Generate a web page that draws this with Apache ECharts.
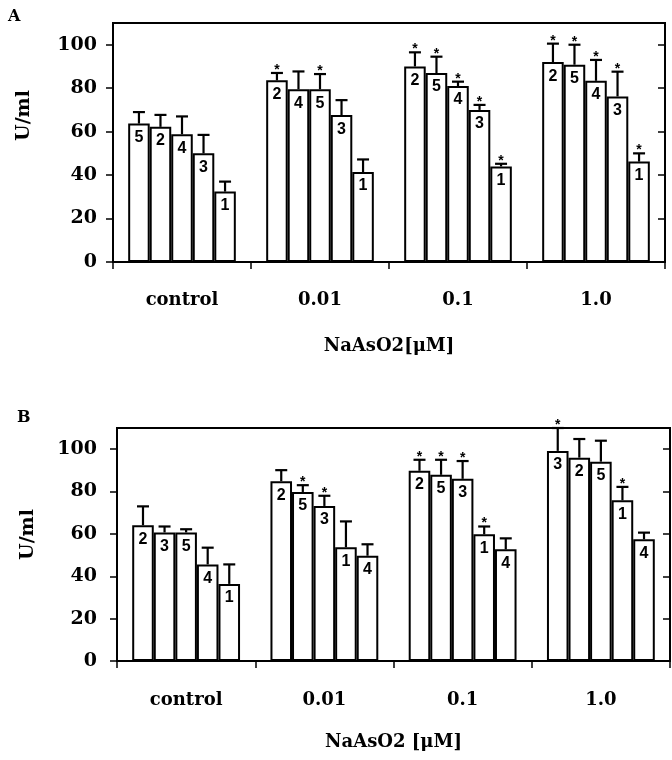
<!DOCTYPE html>
<html><head><meta charset="utf-8">
<script src="https://cdn.jsdelivr.net/npm/echarts@6/dist/echarts.min.js"></script>
<style>html,body{margin:0;padding:0;background:#fff}#chart{width:672px;height:760px}</style>
</head><body><div id="chart"></div>
<script>
const categories = ['control', '0.01', '0.1', '1.0'];

// Panel A: bar means per group (5 bars each), error-bar tops, bar numbers, significance marks
const aMeans = [
  [63.7, 62.2, 58.8, 50.0, 32.4],
  [83.6, 79.5, 79.5, 67.6, 41.4],
  [90.0, 87.0, 81.0, 70.0, 44.0],
  [92.0, 90.8, 83.4, 76.2, 46.2]
];
const aErrTop = [
  [69.0, 67.7, 67.0, 58.5, 37.0],
  [87.0, 87.7, 86.5, 74.5, 47.2],
  [96.5, 94.5, 83.0, 72.3, 45.2],
  [100.5, 100.0, 93.0, 87.6, 50.0]
];
const aLabels = [
  ['5', '2', '4', '3', '1'],
  ['2', '4', '5', '3', '1'],
  ['2', '5', '4', '3', '1'],
  ['2', '5', '4', '3', '1']
];
const aStars = [
  [0, 0, 0, 0, 0],
  [1, 0, 1, 0, 0],
  [1, 1, 1, 1, 1],
  [1, 1, 1, 1, 1]
];

// Panel B
const bMeans = [
  [64.1, 60.7, 60.7, 45.6, 36.4],
  [84.9, 79.8, 73.2, 53.7, 49.7],
  [89.8, 87.9, 86.0, 59.8, 52.7],
  [99.2, 96.0, 94.1, 75.9, 57.5]
];
const bErrTop = [
  [73.0, 63.5, 62.2, 53.5, 45.6],
  [90.1, 83.0, 78.0, 65.9, 55.1],
  [95.0, 95.0, 94.4, 63.5, 57.9],
  [110.0, 104.8, 104.0, 82.2, 60.6]
];
const bLabels = [
  ['2', '3', '5', '4', '1'],
  ['2', '5', '3', '1', '4'],
  ['2', '5', '3', '1', '4'],
  ['3', '2', '5', '1', '4']
];
const bStars = [
  [0, 0, 0, 0, 0],
  [0, 1, 1, 0, 0],
  [1, 1, 1, 1, 0],
  [1, 0, 0, 1, 0]
];

const SERIF = '"DejaVu Serif", "Liberation Serif", serif';
const SANS = '"Liberation Sans", Arial, sans-serif';
const GAP = 0.22;

function barSeries(means, labels, axisIdx, yIdx) {
  const out = [];
  for (let k = 0; k < 5; k++) {
    out.push({
      type: 'bar', xAxisIndex: axisIdx, yAxisIndex: yIdx,
      data: means.map(g => g[k]),
      barGap: '0%', barCategoryGap: (GAP * 100) + '%',
      itemStyle: { color: '#fff', borderColor: '#000', borderWidth: 2 },
      label: {
        show: true, position: 'insideTop', distance: 6,
        formatter: p => labels[p.dataIndex][k],
        fontFamily: SANS, fontWeight: 'bold', fontSize: 16, color: '#000'
      },
      silent: true, animation: false, z: 2
    });
  }
  return out;
}

function errSeries(means, tops, stars, axisIdx, yIdx) {
  const data = [];
  means.forEach((g, gi) => g.forEach((m, k) => data.push([gi, k, m, tops[gi][k], stars[gi][k]])));
  return {
    type: 'custom', xAxisIndex: axisIdx, yAxisIndex: yIdx,
    data: data, encode: { x: 0, y: 3 }, silent: true, animation: false, z: 5,
    renderItem: function (params, api) {
      const cat = api.value(0), pos = api.value(1), mean = api.value(2), top = api.value(3), star = api.value(4);
      const band = api.size([1, 0])[0];
      const bw = band * (1 - GAP) / 5;
      const pm = api.coord([cat, mean]);
      const pt = api.coord([cat, top]);
      const x = pm[0] + (pos - 2) * bw;
      const children = [
        { type: 'line', shape: { x1: x, y1: pm[1], x2: x, y2: pt[1] }, style: { stroke: '#000', lineWidth: 2.2 } },
        { type: 'line', shape: { x1: x - 6, y1: pt[1], x2: x + 6, y2: pt[1] }, style: { stroke: '#000', lineWidth: 2.2 } }
      ];
      if (star) {
        children.push({ type: 'text', style: { text: '*', x: x, y: pt[1] + 4, align: 'center', verticalAlign: 'bottom', font: 'bold 14px ' + SANS, fill: '#000' } });
      }
      return { type: 'group', children: children };
    }
  };
}

function xAxis(gridIndex, name, gap, margin) {
  return {
    type: 'category', gridIndex: gridIndex, data: categories,
    axisLine: { show: true, lineStyle: { color: '#000', width: 2 } },
    axisTick: { show: true, alignWithLabel: false, length: 7, lineStyle: { color: '#000', width: 1.5 } },
    axisLabel: { margin: margin, color: '#000', fontFamily: SERIF, fontWeight: 'bold', fontSize: 18 },
    name: name, nameLocation: 'middle', nameGap: gap,
    nameTextStyle: { color: '#000', fontFamily: SERIF, fontWeight: 'bold', fontSize: 18 },
    splitLine: { show: false }
  };
}

function yAxes(gridIndex, margin, namePad) {
  return [{
    type: 'value', gridIndex: gridIndex, min: 0, max: 110, interval: 20,
    axisLine: { show: true, lineStyle: { color: '#000', width: 2 } },
    axisTick: { show: true, length: 7, lineStyle: { color: '#000', width: 1.5 } },
    axisLabel: { margin: margin, showMaxLabel: false, color: '#000', fontFamily: SERIF, fontWeight: 'bold', fontSize: 19 },
    splitLine: { show: false },
    name: 'U/ml', nameLocation: 'middle', nameGap: 79,
    nameTextStyle: { color: '#000', fontFamily: SERIF, fontWeight: 'bold', fontSize: 19, padding: [0, 0, 0, namePad] }
  }, {
    type: 'value', gridIndex: gridIndex, min: 0, max: 110, interval: 20,
    axisLine: { show: false },
    axisTick: { show: true, inside: true, length: 7, lineStyle: { color: '#000', width: 1.5 } },
    axisLabel: { show: false }, splitLine: { show: false }
  }];
}

const chart = echarts.init(document.getElementById('chart'), null, { renderer: 'canvas' });
chart.setOption({
  backgroundColor: '#fff',
  animation: false,
  title: [
    { text: 'A', left: 3, top: 4, textStyle: { fontFamily: SERIF, fontWeight: 'bold', fontSize: 16, color: '#000' } },
    { text: 'B', left: 12, top: 405, textStyle: { fontFamily: SERIF, fontWeight: 'bold', fontSize: 16, color: '#000' } }
  ],
  grid: [
    { left: 113, top: 23, width: 552, height: 239, show: true, borderColor: '#000', borderWidth: 2, backgroundColor: 'transparent' },
    { left: 117, top: 428, width: 553, height: 233, show: true, borderColor: '#000', borderWidth: 2, backgroundColor: 'transparent' }
  ],
  xAxis: [xAxis(0, 'NaAsO2[μM]', 75, 29), xAxis(1, 'NaAsO2 [μM]', 72, 30)],
  yAxis: yAxes(0, 16, 54).concat(yAxes(1, 20, 20)),
  series: [].concat(
    barSeries(aMeans, aLabels, 0, 0),
    [errSeries(aMeans, aErrTop, aStars, 0, 0)],
    barSeries(bMeans, bLabels, 1, 2),
    [errSeries(bMeans, bErrTop, bStars, 1, 2)]
  )
});
</script></body></html>
